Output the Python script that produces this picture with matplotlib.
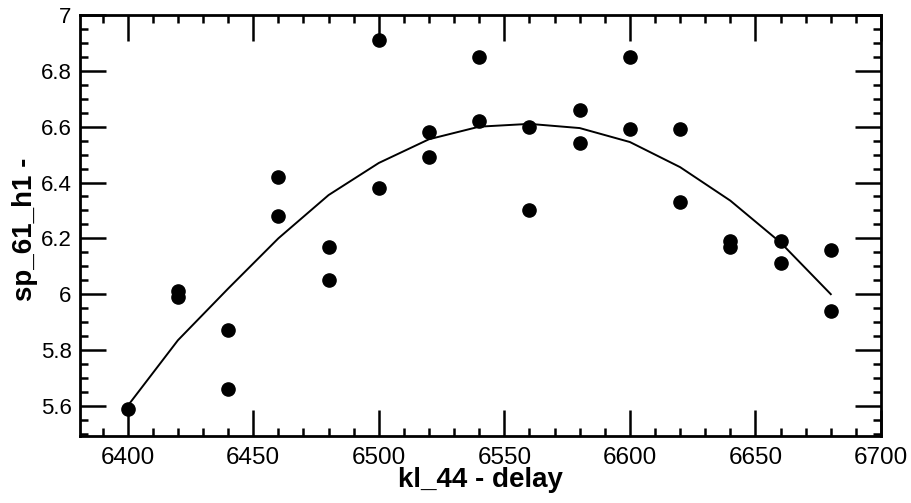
import matplotlib.pyplot as plt
from matplotlib.ticker import MultipleLocator

# measured points (two readings per delay step)
delay = [6400, 6420, 6420, 6440, 6440, 6460, 6460, 6480, 6480, 6500, 6500,
         6520, 6520, 6540, 6540, 6560, 6560, 6580, 6580, 6600, 6600,
         6620, 6620, 6640, 6640, 6660, 6660, 6680, 6680]
sp_61_h1 = [5.59, 6.01, 5.99, 5.87, 5.66, 6.42, 6.28, 6.17, 6.05, 6.91, 6.38,
            6.58, 6.49, 6.85, 6.62, 6.60, 6.30, 6.66, 6.54, 6.85, 6.59,
            6.59, 6.33, 6.19, 6.17, 6.19, 6.11, 6.16, 5.94]

# fitted curve
fit_x = [6400, 6420, 6440, 6460, 6480, 6500, 6520, 6540, 6560, 6580,
         6600, 6620, 6640, 6660, 6680]
fit_y = [5.60, 5.835, 6.02, 6.20, 6.355, 6.47, 6.555, 6.60, 6.61, 6.595,
         6.545, 6.455, 6.335, 6.185, 6.00]

plt.rcParams['font.family'] = ['Liberation Sans', 'DejaVu Sans']

fig = plt.figure(figsize=(9.12, 5.03), dpi=100)
ax = fig.add_axes([80 / 912, 1 - 436 / 503, 801 / 912, 421 / 503])

ax.plot(fit_x, fit_y, color='k', linewidth=1.4)
ax.plot(delay, sp_61_h1, 'o', color='k', markersize=9.5)

ax.set_xlim(6381, 6700)
ax.set_ylim(5.492, 7.0)

ax.xaxis.set_major_locator(MultipleLocator(50))
ax.xaxis.set_minor_locator(MultipleLocator(10))
ax.yaxis.set_minor_locator(MultipleLocator(0.05))
ax.set_yticks([5.6, 5.8, 6.0, 6.2, 6.4, 6.6, 6.8, 7.0])
ax.set_yticklabels(['5.6', '5.8', '6', '6.2', '6.4', '6.6', '6.8', '7'])

ax.tick_params(which='both', direction='in', top=True, right=True, width=1.8)
ax.tick_params(axis='x', labelsize=17.5, pad=8)
ax.tick_params(axis='y', labelsize=16, pad=6)
ax.tick_params(which='major', length=19)
ax.tick_params(which='minor', length=6)
for s in ax.spines.values():
    s.set_linewidth(2)

ax.set_xlabel('kl_44 - delay', fontsize=20, fontweight='bold')
ax.xaxis.set_label_coords(0.5, -0.074)
ax.set_ylabel('sp_61_h1 -', fontsize=20, fontweight='bold')
ax.yaxis.set_label_coords(-0.053, 0.49)

fig.savefig('out.png', dpi=100)
